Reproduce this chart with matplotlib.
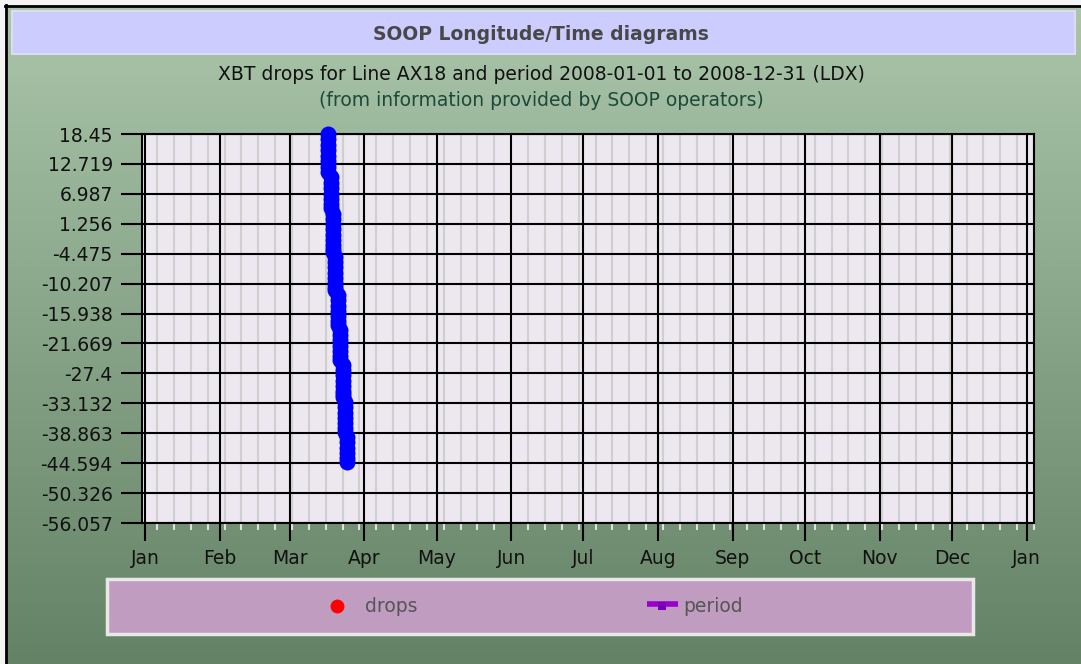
import numpy as np
import matplotlib
matplotlib.use("Agg")
import matplotlib.pyplot as plt
import matplotlib.dates as mdates
from matplotlib.patches import Rectangle
from matplotlib.lines import Line2D
import datetime as dt

# XBT drops (date, longitude)
drop_dates = (["2008-03-17"] * 8 + ["2008-03-18"] * 7 + ["2008-03-19"] * 9 +
              ["2008-03-20"] * 8 + ["2008-03-21"] * 7 + ["2008-03-22"] * 7 +
              ["2008-03-23"] * 8 + ["2008-03-24"] * 7 + ["2008-03-25"] * 6)
drop_lons = [18.45, 17.4, 16.4, 15.3, 14.3, 13.2, 12.2, 11.2,
             10.2, 9.1, 8.1, 7.0, 6.0, 5.1, 4.2,
             3.2, 2.2, 1.2, 0.2, -0.8, -1.8, -2.8, -3.5, -4.1,
             -5.1, -6.1, -7.1, -8.1, -9.1, -10.0, -10.8, -11.4,
             -12.4, -13.4, -14.4, -15.4, -16.4, -17.3, -18.1,
             -19.1, -20.1, -21.1, -22.1, -23.1, -24.0, -24.8,
             -25.8, -26.8, -27.8, -28.8, -29.8, -30.7, -31.4, -31.9,
             -32.9, -33.9, -34.9, -35.9, -36.9, -37.8, -38.6,
             -39.6, -40.6, -41.6, -42.6, -43.6, -44.4]

ytick_vals = [18.45, 12.719, 6.987, 1.256, -4.475, -10.207, -15.938,
              -21.669, -27.4, -33.132, -38.863, -44.594, -50.326, -56.057]
ytick_labels = ["18.45", "12.719", "6.987", "1.256", "-4.475", "-10.207", "-15.938",
                "-21.669", "-27.4", "-33.132", "-38.863", "-44.594", "-50.326", "-56.057"]

W, H = 1081, 664
fig = plt.figure(figsize=(W / 100, H / 100), dpi=100, facecolor="#f4f4f4")


def fx(px):
    return px / W


def fy(py):
    return 1 - py / H


# background gradient
bg = fig.add_axes([fx(7), 0, 1 - fx(7), fy(7)], zorder=-10)
top = np.array([170, 197, 170]) / 255
bot = np.array([100, 130, 102]) / 255
t = np.linspace(0, 1, 256)[:, None, None]
grad = top * (1 - t) + bot * t
grad = np.repeat(grad, 2, axis=1)
bg.imshow(grad, aspect="auto", extent=[0, 1, 0, 1])
bg.set_axis_off()

# border lines top / left
fig.add_artist(Line2D([fx(5), 1], [fy(6), fy(6)], color="black", lw=2))
fig.add_artist(Line2D([fx(6), fx(6)], [0, fy(5)], color="black", lw=2))

# title bar
fig.add_artist(Rectangle((fx(12), fy(54)), fx(1075) - fx(12), fy(11) - fy(54),
                         facecolor="#ccccff", edgecolor="#dcdcec", lw=1.5))
fig.text(fx(541), fy(34), "SOOP Longitude/Time diagrams", ha="center", va="center",
         fontsize=13.5, fontweight="semibold", color="#484848")
fig.text(fx(541), fy(75), "XBT drops for Line AX18 and period 2008-01-01 to 2008-12-31 (LDX)",
         ha="center", va="center", fontsize=13.5, color="#111111")
fig.text(fx(541), fy(100), "(from information provided by SOOP operators)",
         ha="center", va="center", fontsize=13.5, color="#1c4a3a")

# main axes
ax = fig.add_axes([fx(142), fy(523), fx(1034) - fx(142), fy(134) - fy(523)])
ax.set_facecolor("#ede7ef")

x = [mdates.date2num(dt.datetime.strptime(d, "%Y-%m-%d")) for d in drop_dates]
ax.plot(x, drop_lons, "o", color="#0000ff", ms=11.5, mew=0, clip_on=False, zorder=5)

start = mdates.date2num(dt.datetime(2008, 1, 1))
ax.set_xlim(start - 1.25, start + 369)
ax.set_ylim(ytick_vals[-1], ytick_vals[0])

ax.xaxis.set_major_locator(mdates.MonthLocator())
ax.xaxis.set_major_formatter(mdates.DateFormatter("%b"))
ax.xaxis.set_minor_locator(mdates.WeekdayLocator(byweekday=mdates.SU))
ax.set_yticks(ytick_vals)
ax.set_yticklabels(ytick_labels)

ax.grid(which="major", color="black", lw=1.5)
ax.grid(which="minor", axis="x", color="#cfcfcf", lw=1.5)
ax.set_axisbelow(True)

ax.tick_params(axis="y", which="major", length=15, width=1.5, pad=6,
               labelsize=13.5, labelcolor="#111111")
ax.tick_params(axis="x", which="major", length=13, width=1.5, pad=6,
               labelsize=13.5, labelcolor="#111111")
ax.tick_params(axis="x", which="minor", length=5, width=1.5, color="#e0e0e0")
for s in ax.spines.values():
    s.set_linewidth(1.5)

# legend box
fig.add_artist(Rectangle((fx(107), fy(634)), fx(973) - fx(107), fy(579) - fy(634),
                         facecolor="#c09cc0", edgecolor="#e8e8e8", lw=2.5))
fig.add_artist(Line2D([fx(337)], [fy(606)], marker="o", color="#ff0000", ms=10, mew=0))
fig.text(fx(365), fy(607), "drops", ha="left", va="center", fontsize=13.5, color="#555555")
fig.add_artist(Line2D([fx(647), fx(678)], [fy(604), fy(604)], color="#9900cc", lw=4,
                      solid_capstyle="butt"))
fig.add_artist(Line2D([fx(662)], [fy(606)], marker="s", color="#7a00b8", ms=6, mew=0))
fig.text(fx(683), fy(607), "period", ha="left", va="center", fontsize=13.5, color="#555555")

fig.savefig("out.png", dpi=100, facecolor=fig.get_facecolor())
